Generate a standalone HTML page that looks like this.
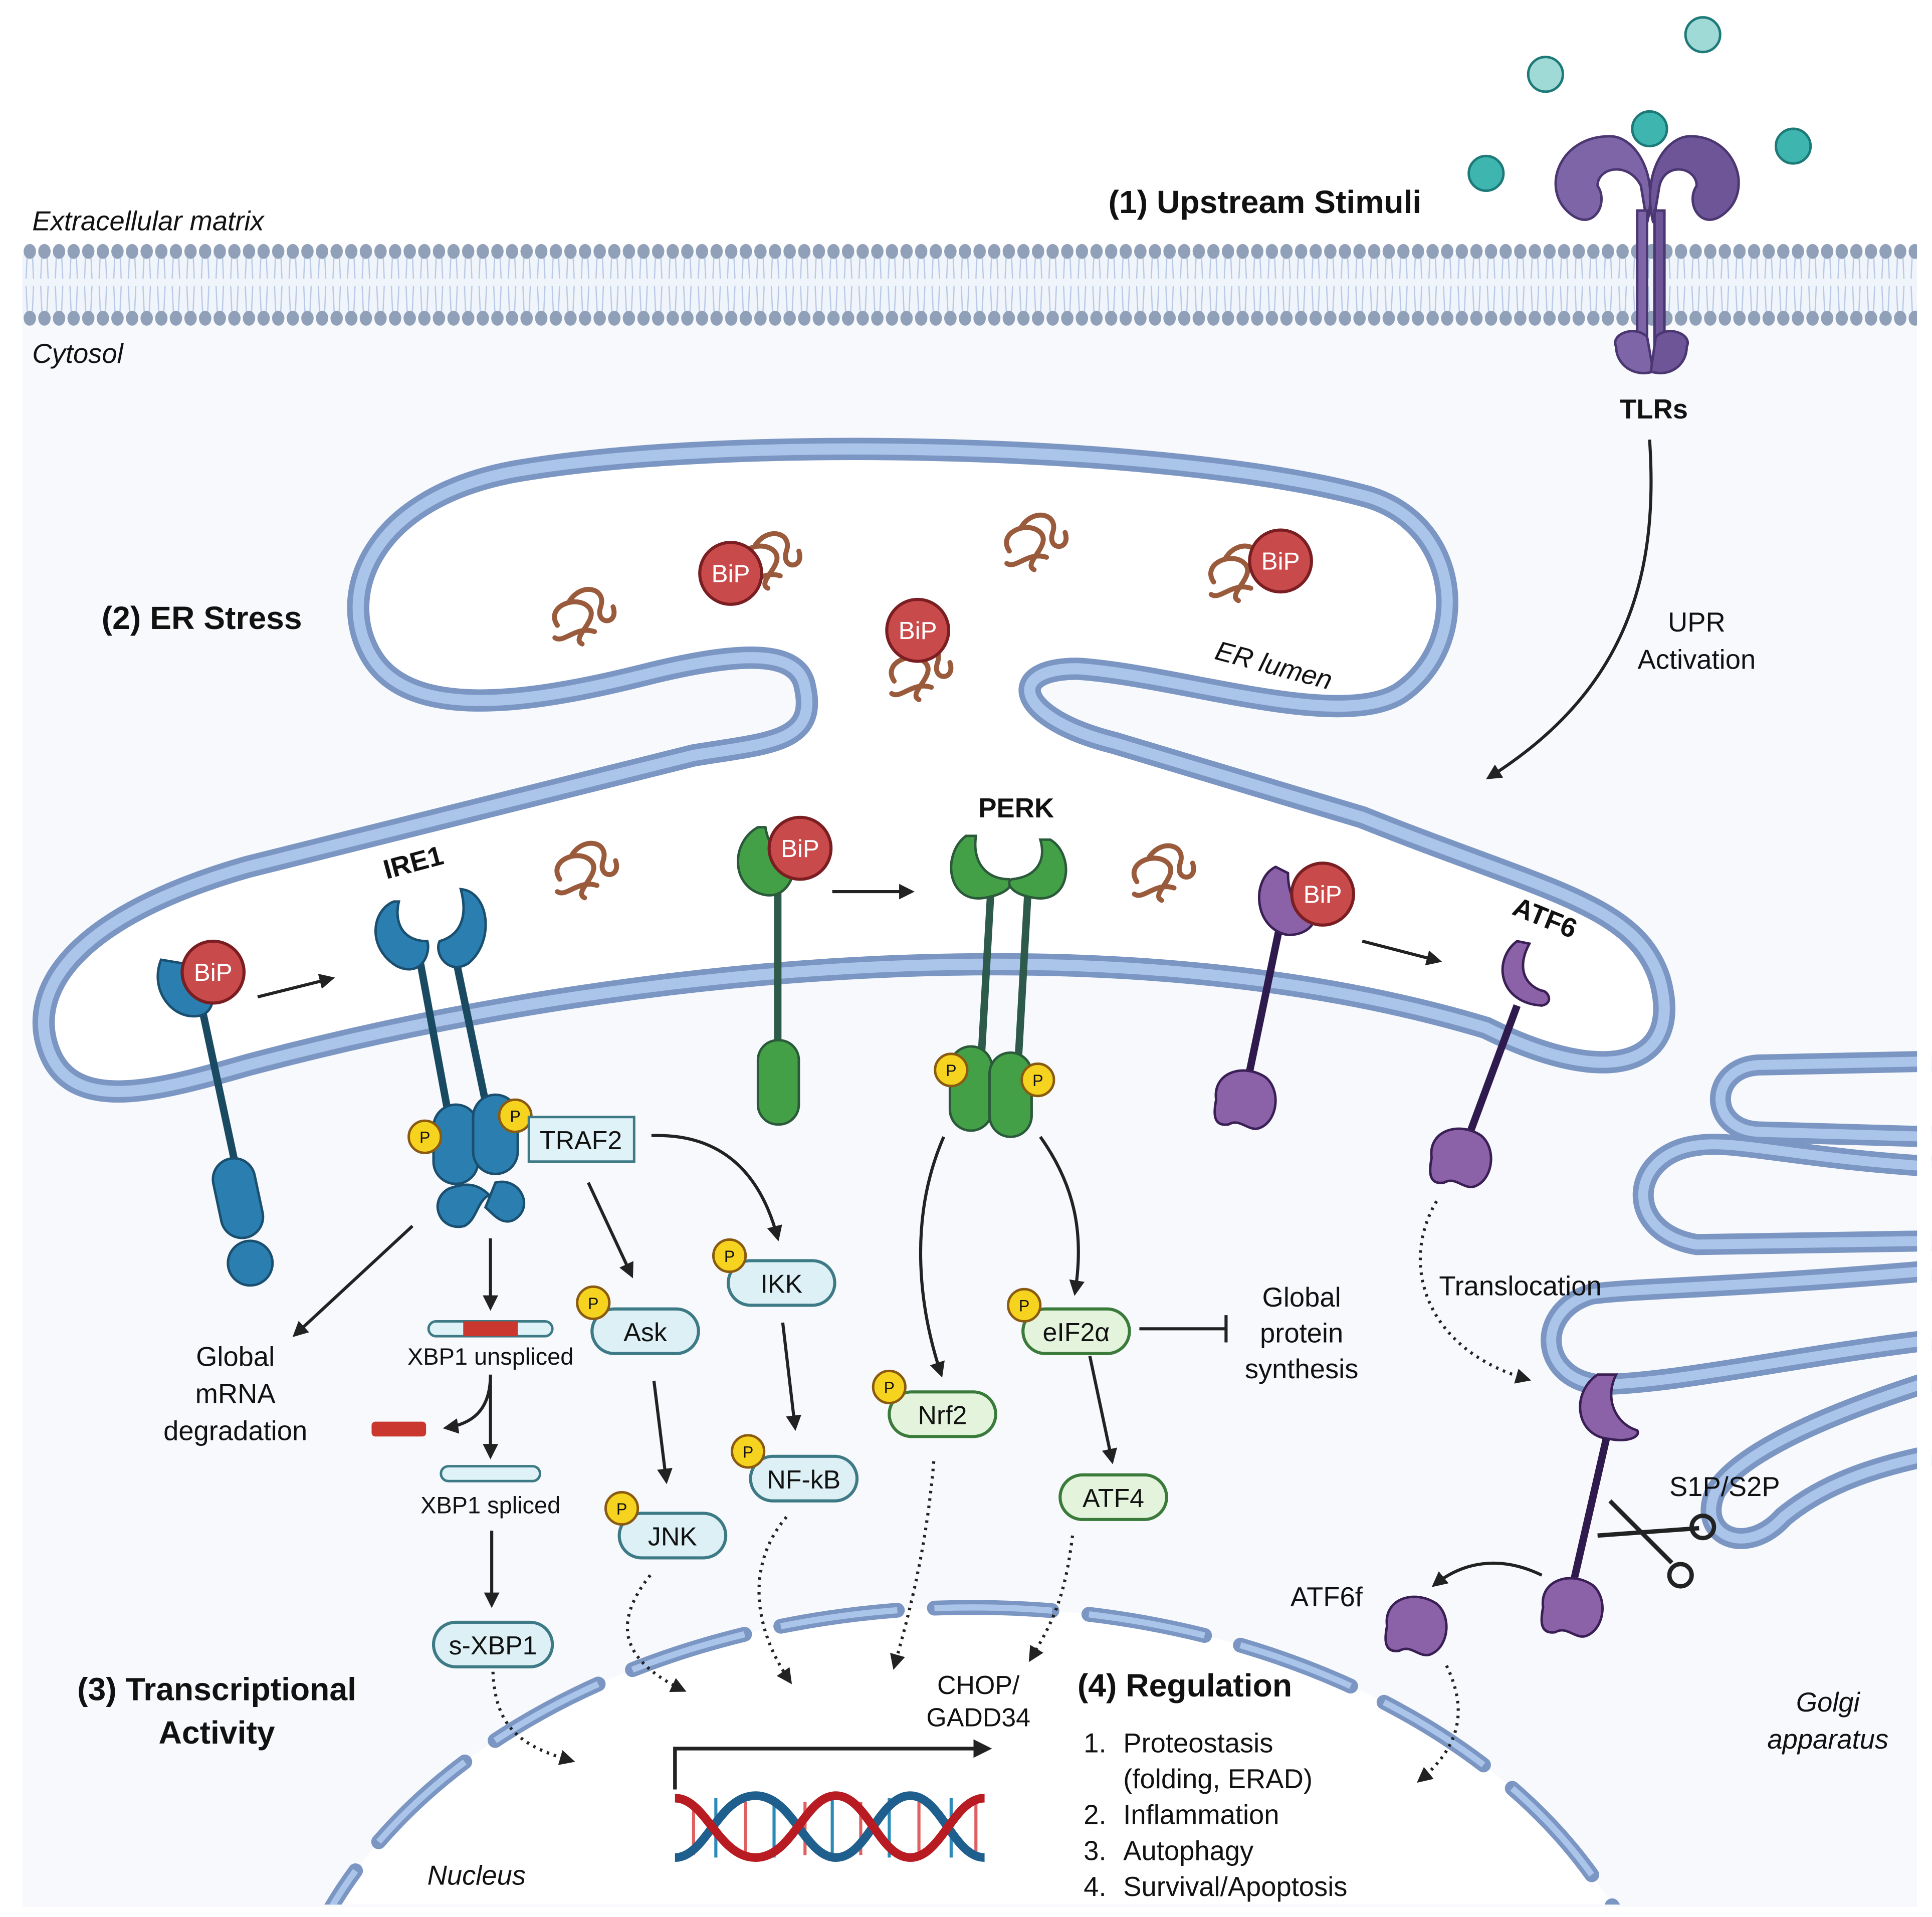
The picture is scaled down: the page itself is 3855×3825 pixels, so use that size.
<!DOCTYPE html>
<html><head><meta charset="utf-8"><style>
html,body{margin:0;padding:0;background:#fff;overflow:hidden;width:3855px;height:3825px}
svg{display:block}
text{font-family:"Liberation Sans",sans-serif;fill:#111}
</style></head><body>
<svg width="3855" height="3825" viewBox="0 0 1560 1548" xmlns="http://www.w3.org/2000/svg">
<defs>
<marker id="ah" viewBox="0 0 10 10" refX="8" refY="5" markerWidth="5" markerHeight="5" orient="auto"><path d="M0,0 L10,5 L0,10 Z" fill="#222"/></marker>
<g id="pp"><circle r="13" fill="#f5d31f" stroke="#8a5a10" stroke-width="2"/><text y="5" font-size="13" text-anchor="middle">P</text></g>
<g id="bip"><circle r="25" fill="#c94a4a" stroke="#7a1e22" stroke-width="2.5"/><text y="7" font-size="20" text-anchor="middle" style="fill:#fff">BiP</text></g>
<g id="mf" fill="none" stroke="#9a5a3c" stroke-width="4" stroke-linecap="round"><path d="M-20,10 C-30,-5 -5,-15 5,-5 C15,5 -10,20 0,25 M-10,-10 C0,-25 20,-20 15,-5 C10,10 30,10 25,-5 M-22,20 C-15,25 -5,10 10,15"/></g>
<path id="atfb" d="M-22,0 C-25,-22 0,-30 18,-18 C30,-8 28,15 15,22 C5,28 -2,14 -12,20 C-25,22 -24,10 -22,0 Z"/>
</defs>
<rect width="1560" height="1548" fill="#fff"/>
<rect x="18" y="258" width="1530" height="1282" fill="#f7f9fc"/>
<rect x="18" y="205" width="1530" height="52" fill="#f0f4fb"/>
<pattern id="lip" x="18" y="195" width="11.8" height="70" patternUnits="userSpaceOnUse">
<line x1="4" y1="8" x2="3" y2="30" stroke="#b9c9e6" stroke-width="1"/><line x1="8" y1="8" x2="9" y2="30" stroke="#b9c9e6" stroke-width="1"/>
<line x1="3" y1="36" x2="4" y2="58" stroke="#b9c9e6" stroke-width="1"/><line x1="9" y1="36" x2="8" y2="58" stroke="#b9c9e6" stroke-width="1"/>
<ellipse cx="6" cy="8" rx="5" ry="6" fill="#8fa0b8"/><ellipse cx="6" cy="62" rx="5" ry="6" fill="#8fa0b8"/>
</pattern>
<rect x="18" y="195" width="1530" height="70" fill="url(#lip)"/>
<text x="26" y="186" font-size="22" font-style="italic">Extracellular matrix</text>
<text x="26" y="293" font-size="22" font-style="italic">Cytosol</text>
<g fill="#3fb5b0" stroke="#1d7a78" stroke-width="2">
<circle cx="1248" cy="60" r="14" fill="#9fdad6"/><circle cx="1375" cy="28" r="14" fill="#9fdad6"/>
<circle cx="1200" cy="140" r="14"/><circle cx="1332" cy="104" r="14"/><circle cx="1448" cy="118" r="14"/>
</g>
<g fill="#7d65a8" stroke="#4a3670" stroke-width="2">
<path d="M1300,110 C1260,110 1245,150 1265,170 C1285,190 1300,165 1290,150 C1290,135 1315,130 1325,150 L1330,180 C1340,140 1320,110 1300,110 Z"/>
<path d="M1365,110 C1400,110 1415,150 1395,170 C1375,190 1360,165 1370,150 C1370,135 1345,130 1340,150 L1335,180 C1325,140 1345,110 1365,110 Z" fill="#6d5598"/>
<rect x="1322" y="170" width="8" height="110"/><rect x="1336" y="170" width="8" height="110" fill="#6d5598"/>
<path d="M1305,280 C1300,270 1320,262 1330,272 L1335,300 C1320,305 1305,295 1305,280 Z"/>
<path d="M1362,280 C1367,270 1347,262 1337,272 L1333,300 C1348,305 1362,295 1362,280 Z" fill="#6d5598"/>
</g>
<text x="895" y="172" font-size="26" font-weight="bold">(1) Upstream Stimuli</text>
<text x="1308" y="338" font-size="22" font-weight="bold">TLRs</text>
<path d="M1332,355 C1340,470 1310,560 1202,628" fill="none" stroke="#222" stroke-width="2.5" marker-end="url(#ah)"/>
<text x="1370" y="510" font-size="22" text-anchor="middle">UPR</text>
<text x="1370" y="540" font-size="22" text-anchor="middle">Activation</text>
<!-- ER -->
<path d="M650,555 C660,600 620,600 560,610 L200,700 C60,740 20,800 40,850 C60,900 130,880 200,860 C500,780 900,740 1200,830 C1300,880 1360,860 1340,790 C1320,730 1250,720 1100,660 L900,600 C820,580 810,540 870,540 C950,545 1080,590 1130,560 C1190,520 1180,420 1100,400 C950,360 600,350 420,380 C300,400 270,480 300,530 C330,580 420,570 520,545 C600,525 645,525 650,555 Z" fill="#fff" stroke="#7b96c2" stroke-width="18"/>
<path d="M650,555 C660,600 620,600 560,610 L200,700 C60,740 20,800 40,850 C60,900 130,880 200,860 C500,780 900,740 1200,830 C1300,880 1360,860 1340,790 C1320,730 1250,720 1100,660 L900,600 C820,580 810,540 870,540 C950,545 1080,590 1130,560 C1190,520 1180,420 1100,400 C950,360 600,350 420,380 C300,400 270,480 300,530 C330,580 420,570 520,545 C600,525 645,525 650,555 Z" fill="none" stroke="#aac4ea" stroke-width="9"/>
<!-- Golgi -->
<g fill="none">
<g stroke="#7b96c2" stroke-width="17">
<path d="M1560,857 L1420,860 C1380,862 1378,912 1420,914 L1560,918"/>
<path d="M1560,942 C1450,935 1400,920 1370,925 C1315,932 1310,995 1370,1005 L1560,1002"/>
<path d="M1560,1026 C1400,1040 1320,1040 1285,1045 C1240,1058 1242,1112 1290,1118 C1350,1118 1450,1095 1560,1082"/>
<path d="M1560,1115 C1450,1150 1400,1180 1385,1205 C1370,1240 1410,1258 1440,1225 C1470,1200 1510,1185 1560,1175"/>
</g>
<g stroke="#aac4ea" stroke-width="8">
<path d="M1560,857 L1420,860 C1380,862 1378,912 1420,914 L1560,918"/>
<path d="M1560,942 C1450,935 1400,920 1370,925 C1315,932 1310,995 1370,1005 L1560,1002"/>
<path d="M1560,1026 C1400,1040 1320,1040 1285,1045 C1240,1058 1242,1112 1290,1118 C1350,1118 1450,1095 1560,1082"/>
<path d="M1560,1115 C1450,1150 1400,1180 1385,1205 C1370,1240 1410,1258 1440,1225 C1470,1200 1510,1185 1560,1175"/>
</g>
</g>
<rect x="1548" y="0" width="12" height="1548" fill="#fff"/>
<!-- nucleus -->
<clipPath id="cl"><rect x="0" y="0" width="1560" height="1538"/></clipPath>
<g clip-path="url(#cl)">
<ellipse cx="785" cy="1690" rx="560" ry="392" fill="#fff"/>
<ellipse cx="785" cy="1690" rx="560" ry="392" fill="none" stroke="#7b96c2" stroke-width="12" stroke-dasharray="95 30" stroke-linecap="round" stroke-dashoffset="20"/>
<ellipse cx="785" cy="1690" rx="560" ry="392" fill="none" stroke="#aac4ea" stroke-width="5" stroke-dasharray="95 30" stroke-dashoffset="20"/>
</g>
<rect x="0" y="1540" width="1560" height="8" fill="#fff"/>
<text x="345" y="1522" font-size="22" font-style="italic">Nucleus</text>
<text x="1476" y="1382" font-size="22" font-style="italic" text-anchor="middle">Golgi</text>
<text x="1476" y="1412" font-size="22" font-style="italic" text-anchor="middle">apparatus</text>
<text x="980" y="532" font-size="22" font-style="italic" transform="rotate(15 980 532)">ER lumen</text>
<text x="82" y="508" font-size="26" font-weight="bold">(2) ER Stress</text>
<use href="#mf" x="470" y="495"/><use href="#mf" x="620" y="450"/><use href="#mf" x="835" y="435"/><use href="#mf" x="1000" y="460"/><use href="#mf" x="742" y="540"/><use href="#mf" x="472" y="700"/><use href="#mf" x="938" y="702"/>
<use href="#bip" x="590" y="463"/><use href="#bip" x="741" y="509"/><use href="#bip" x="1034" y="453"/>
<!-- IRE1 inactive -->
<line x1="160" y1="800" x2="192" y2="950" stroke="#1a4a62" stroke-width="6"/>
<rect x="175" y="935" width="34" height="65" rx="17" fill="#2a7fb0" stroke="#1a4f70" stroke-width="2" transform="rotate(-12 192 967)"/>
<circle cx="202" cy="1020" r="18" fill="#2a7fb0" stroke="#1a4f70" stroke-width="2"/>
<path d="M130,775 C120,800 140,825 162,820 C178,815 172,790 160,780 Z" fill="#2a7fb0" stroke="#1a4f70" stroke-width="2"/>
<use href="#bip" x="172" y="785"/>
<line x1="208" y1="805" x2="268" y2="790" stroke="#222" stroke-width="2.5" marker-end="url(#ah)"/>
<!-- IRE1 active -->
<text x="312" y="710" font-size="22" font-weight="bold" transform="rotate(-15 312 710)">IRE1</text>
<line x1="338" y1="770" x2="362" y2="900" stroke="#1a4a62" stroke-width="6"/>
<line x1="366" y1="765" x2="392" y2="890" stroke="#1a4a62" stroke-width="6"/>
<path d="M318,728 C300,735 296,765 320,780 C340,790 348,770 345,760 C325,760 318,745 322,728 Z" fill="#2a7fb0" stroke="#1a4f70" stroke-width="2"/>
<path d="M372,718 C395,720 400,760 378,778 C362,788 350,770 355,760 C372,755 378,740 372,718 Z" fill="#2a7fb0" stroke="#1a4f70" stroke-width="2"/>
<rect x="350" y="892" width="36" height="64" rx="18" fill="#2a7fb0" stroke="#1a4f70" stroke-width="2"/>
<rect x="382" y="884" width="36" height="64" rx="18" fill="#2a7fb0" stroke="#1a4f70" stroke-width="2"/>
<path d="M362,960 C345,970 355,995 375,990 C385,985 385,970 395,965 C385,955 375,955 362,960 Z M400,955 C420,950 432,975 415,985 C405,990 398,980 392,975 Z" fill="#2a7fb0" stroke="#1a4f70" stroke-width="2"/>
<use href="#pp" x="343" y="918"/><use href="#pp" x="416" y="901"/>
<rect x="427" y="902" width="85" height="36" fill="#dff2f7" stroke="#3d7a85" stroke-width="2"/>
<text x="469" y="928" font-size="21" text-anchor="middle">TRAF2</text>
<!-- PERK inactive -->
<line x1="628" y1="700" x2="628" y2="850" stroke="#2d5a4a" stroke-width="6"/>
<rect x="612" y="840" width="33" height="68" rx="16" fill="#44a047" stroke="#2b5a3a" stroke-width="2"/>
<path d="M612,668 C590,680 590,715 615,722 C635,728 645,705 640,690 C625,690 620,680 618,668 Z" fill="#44a047" stroke="#2b5a3a" stroke-width="2"/>
<use href="#bip" x="646" y="685"/>
<line x1="672" y1="720" x2="736" y2="720" stroke="#222" stroke-width="2.5" marker-end="url(#ah)"/>
<!-- PERK active -->
<text x="790" y="660" font-size="22" font-weight="bold">PERK</text>
<line x1="800" y1="720" x2="792" y2="860" stroke="#2d5a4a" stroke-width="6"/>
<line x1="830" y1="720" x2="822" y2="860" stroke="#2d5a4a" stroke-width="6"/>
<path d="M780,675 C760,690 765,730 795,725 C815,722 820,712 815,710 C795,710 785,695 788,675 Z" fill="#44a047" stroke="#2b5a3a" stroke-width="2"/>
<path d="M848,678 C868,690 865,730 835,725 C815,722 812,712 817,710 C837,708 845,695 840,678 Z" fill="#44a047" stroke="#2b5a3a" stroke-width="2"/>
<rect x="767" y="845" width="34" height="68" rx="17" fill="#44a047" stroke="#2b5a3a" stroke-width="2"/>
<rect x="799" y="850" width="34" height="68" rx="17" fill="#44a047" stroke="#2b5a3a" stroke-width="2"/>
<use href="#pp" x="768" y="864"/><use href="#pp" x="838" y="872"/>
<!-- ATF6 -->
<line x1="1035" y1="740" x2="1008" y2="870" stroke="#2f1a4e" stroke-width="6"/>
<use href="#atfb" x="1004" y="888" fill="#8b62a8" stroke="#3a1f55" stroke-width="2"/>
<path d="M1030,700 C1010,710 1012,750 1040,755 C1060,755 1065,740 1060,735 C1045,735 1040,720 1040,705 Z" fill="#8b62a8" stroke="#3a1f55" stroke-width="2"/>
<use href="#bip" x="1068" y="722"/>
<line x1="1100" y1="760" x2="1162" y2="776" stroke="#222" stroke-width="2.5" marker-end="url(#ah)"/>
<text x="1220" y="738" font-size="22" font-weight="bold" transform="rotate(22 1220 738)">ATF6</text>
<path d="M1225,760 C1205,775 1210,810 1245,812 C1255,810 1250,800 1245,800 C1230,795 1225,780 1235,762 Z" fill="#8b62a8" stroke="#3a1f55" stroke-width="2"/>
<line x1="1225" y1="812" x2="1185" y2="920" stroke="#2f1a4e" stroke-width="6"/>
<use href="#atfb" x="1178" y="935" fill="#8b62a8" stroke="#3a1f55" stroke-width="2"/>
<path d="M1160,970 C1130,1020 1150,1090 1234,1114" fill="none" stroke="#222" stroke-width="2.5" stroke-dasharray="2 4" marker-end="url(#ah)"/>
<text x="1162" y="1046" font-size="22">Translocation</text>
<path d="M1290,1110 C1268,1125 1272,1160 1300,1162 C1315,1165 1325,1160 1322,1155 C1305,1150 1295,1130 1305,1110 Z" fill="#8b62a8" stroke="#3a1f55" stroke-width="2"/>
<line x1="1297" y1="1162" x2="1270" y2="1280" stroke="#2f1a4e" stroke-width="6"/>
<use href="#atfb" x="1268" y="1298" fill="#8b62a8" stroke="#3a1f55" stroke-width="2"/>
<text x="1348" y="1208" font-size="22">S1P/S2P</text>
<g stroke="#222" stroke-width="3.5" fill="none"><line x1="1290" y1="1240" x2="1372" y2="1234"/><line x1="1300" y1="1212" x2="1350" y2="1262"/><circle cx="1375" cy="1233" r="9"/><circle cx="1357" cy="1272" r="9"/></g>
<path d="M1245,1272 C1210,1255 1180,1262 1158,1280" fill="none" stroke="#222" stroke-width="2.5" marker-end="url(#ah)"/>
<text x="1042" y="1297" font-size="22">ATF6f</text>
<use href="#atfb" x="1142" y="1313" fill="#8b62a8" stroke="#3a1f55" stroke-width="2"/>
<path d="M1168,1345 C1185,1380 1180,1410 1146,1438" fill="none" stroke="#222" stroke-width="2.5" stroke-dasharray="2 4" marker-end="url(#ah)"/>
<g stroke="#222" stroke-width="2.5" fill="none">
<line x1="333" y1="990" x2="238" y2="1078" marker-end="url(#ah)"/>
<line x1="396" y1="1000" x2="396" y2="1056" marker-end="url(#ah)"/>
<path d="M396,1110 C396,1140 380,1150 360,1153" marker-end="url(#ah)"/>
<line x1="396" y1="1112" x2="396" y2="1176" marker-end="url(#ah)"/>
<line x1="397" y1="1236" x2="397" y2="1296" marker-end="url(#ah)"/>
<path d="M398,1350 C400,1395 420,1410 462,1422" stroke-dasharray="2 4" marker-end="url(#ah)"/>
<line x1="475" y1="955" x2="510" y2="1030" marker-end="url(#ah)"/>
<path d="M526,917 C585,915 615,950 628,1000" marker-end="url(#ah)"/>
<line x1="528" y1="1115" x2="538" y2="1196" marker-end="url(#ah)"/>
<line x1="632" y1="1068" x2="642" y2="1153" marker-end="url(#ah)"/>
<path d="M525,1272 C495,1310 500,1340 552,1365" stroke-dasharray="2 4" marker-end="url(#ah)"/>
<path d="M635,1225 C605,1260 605,1310 638,1358" stroke-dasharray="2 4" marker-end="url(#ah)"/>
<path d="M762,918 C735,980 740,1050 760,1110" marker-end="url(#ah)"/>
<path d="M840,918 C870,960 875,1000 868,1044" marker-end="url(#ah)"/>
<line x1="880" y1="1095" x2="898" y2="1180" marker-end="url(#ah)"/>
<path d="M754,1180 C748,1250 735,1300 722,1346" stroke-dasharray="2 4" marker-end="url(#ah)"/>
<path d="M866,1240 C860,1290 850,1310 832,1340" stroke-dasharray="2 4" marker-end="url(#ah)"/>
<line x1="920" y1="1073" x2="990" y2="1073"/><line x1="990" y1="1062" x2="990" y2="1084"/>
<path d="M545,1445 V1412 H798" stroke-width="3" marker-end="url(#ah)"/>
</g>
<text x="190" y="1103" font-size="22" text-anchor="middle">Global</text>
<text x="190" y="1133" font-size="22" text-anchor="middle">mRNA</text>
<text x="190" y="1163" font-size="22" text-anchor="middle">degradation</text>
<rect x="346" y="1067" width="100" height="12" rx="6" fill="#dff2f7" stroke="#3d7a85" stroke-width="2"/>
<rect x="374" y="1067" width="44" height="12" fill="#c9372e"/>
<text x="396" y="1102" font-size="19" text-anchor="middle">XBP1 unspliced</text>
<rect x="300" y="1148" width="44" height="12" rx="3" fill="#c9372e"/>
<rect x="356" y="1184" width="80" height="12" rx="6" fill="#dff2f7" stroke="#3d7a85" stroke-width="2"/>
<text x="396" y="1222" font-size="19" text-anchor="middle">XBP1 spliced</text>
<g stroke="#3d7a85" stroke-width="2.5" fill="#dcf0f5">
<rect x="350" y="1310" width="96" height="36" rx="18"/>
<rect x="478" y="1057" width="86" height="36" rx="18"/>
<rect x="588" y="1018" width="86" height="36" rx="18"/>
<rect x="500" y="1222" width="86" height="36" rx="18"/>
<rect x="606" y="1176" width="86" height="36" rx="18"/>
</g>
<g stroke="#3a7a3a" stroke-width="2.5" fill="#e4f4dc">
<rect x="826" y="1057" width="86" height="36" rx="18"/>
<rect x="718" y="1124" width="86" height="36" rx="18"/>
<rect x="856" y="1191" width="86" height="36" rx="18"/>
</g>
<text x="398" y="1336" font-size="21" text-anchor="middle">s-XBP1</text>
<text x="521" y="1083" font-size="21" text-anchor="middle">Ask</text>
<text x="631" y="1044" font-size="21" text-anchor="middle">IKK</text>
<text x="543" y="1248" font-size="21" text-anchor="middle">JNK</text>
<text x="649" y="1202" font-size="21" text-anchor="middle">NF-kB</text>
<text x="869" y="1083" font-size="21" text-anchor="middle">eIF2α</text>
<text x="761" y="1150" font-size="21" text-anchor="middle">Nrf2</text>
<text x="899" y="1217" font-size="21" text-anchor="middle">ATF4</text>
<use href="#pp" x="479" y="1052"/><use href="#pp" x="589" y="1014"/><use href="#pp" x="502" y="1218"/><use href="#pp" x="604" y="1172"/><use href="#pp" x="827" y="1054"/><use href="#pp" x="718" y="1120"/>
<text x="1051" y="1055" font-size="22" text-anchor="middle">Global</text>
<text x="1051" y="1084" font-size="22" text-anchor="middle">protein</text>
<text x="1051" y="1113" font-size="22" text-anchor="middle">synthesis</text>
<text x="175" y="1373" font-size="26" font-weight="bold" text-anchor="middle">(3) Transcriptional</text>
<text x="175" y="1408" font-size="26" font-weight="bold" text-anchor="middle">Activity</text>
<text x="790" y="1368" font-size="21" text-anchor="middle">CHOP/</text>
<text x="790" y="1394" font-size="21" text-anchor="middle">GADD34</text>
<text x="870" y="1370" font-size="26" font-weight="bold">(4) Regulation</text>
<g font-size="22">
<text x="875" y="1415">1.</text><text x="907" y="1415">Proteostasis</text>
<text x="907" y="1444">(folding, ERAD)</text>
<text x="875" y="1473">2.</text><text x="907" y="1473">Inflammation</text>
<text x="875" y="1502">3.</text><text x="907" y="1502">Autophagy</text>
<text x="875" y="1531">4.</text><text x="907" y="1531">Survival/Apoptosis</text>
</g>
<g>
<g stroke-width="2.5">
<line x1="560" y1="1455" x2="560" y2="1498" stroke="#e06060"/><line x1="578" y1="1452" x2="578" y2="1500" stroke="#2a8ab8"/><line x1="602" y1="1455" x2="602" y2="1498" stroke="#e06060"/>
<line x1="625" y1="1452" x2="625" y2="1500" stroke="#2a8ab8"/><line x1="650" y1="1455" x2="650" y2="1498" stroke="#e06060"/><line x1="672" y1="1452" x2="672" y2="1500" stroke="#2a8ab8"/>
<line x1="695" y1="1455" x2="695" y2="1498" stroke="#e06060"/><line x1="718" y1="1452" x2="718" y2="1500" stroke="#2a8ab8"/><line x1="742" y1="1455" x2="742" y2="1498" stroke="#e06060"/><line x1="768" y1="1452" x2="768" y2="1500" stroke="#2a8ab8"/><line x1="788" y1="1455" x2="788" y2="1498" stroke="#e06060"/>
</g>
<path d="M545,1500 C570,1500 580,1450 610,1450 C640,1450 650,1500 675,1500 C700,1500 710,1450 735,1450 C760,1450 770,1500 795,1500" fill="none" stroke="#1f5f8e" stroke-width="7"/>
<path d="M545,1452 C570,1452 580,1500 610,1500 C640,1500 650,1450 675,1450 C700,1450 710,1500 735,1500 C760,1500 770,1452 795,1452" fill="none" stroke="#b81c22" stroke-width="7"/>
</g>
</svg>
</body></html>
